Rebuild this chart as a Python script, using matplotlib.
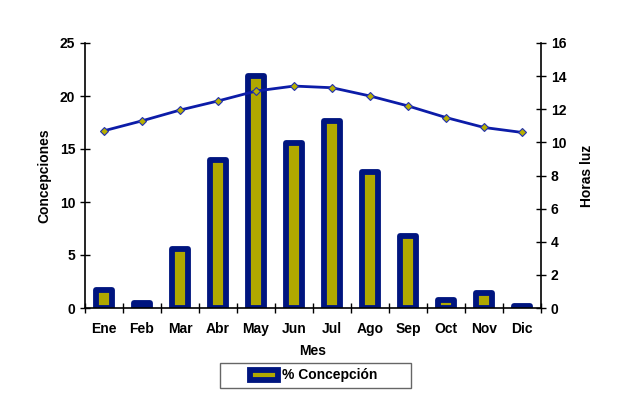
import numpy as np
import matplotlib.pyplot as plt
from matplotlib.patches import Rectangle

plt.rcParams['font.family'] = ['Liberation Sans', 'DejaVu Sans']
plt.rcParams['font.weight'] = 'bold'

meses = ['Ene', 'Feb', 'Mar', 'Abr', 'May', 'Jun', 'Jul', 'Ago', 'Sep', 'Oct', 'Nov', 'Dic']
concepciones = [1.7, 0.5, 5.6, 14.0, 21.85, 15.6, 17.6, 12.8, 6.8, 0.8, 1.45, 0.2]
horas_luz = [10.7, 11.3, 11.95, 12.5, 13.1, 13.4, 13.3, 12.8, 12.2, 11.5, 10.9, 10.6]

fig = plt.figure(figsize=(6.27, 3.96), dpi=100)
ax = fig.add_axes([85/627, 1-308/396, 456/627, 265/396])
ax2 = ax.twinx()

x = np.arange(len(meses))
ax.bar(x, concepciones, width=0.4, color='#b0a800', edgecolor='#00157f',
       linewidth=4.2, joinstyle='round', label='% Concepción', zorder=2)
ax2.plot(x, horas_luz, color='#0c1ca8', linewidth=2, marker='D', markersize=4,
         markerfacecolor='#b8b000', markeredgecolor='#2030b0', markeredgewidth=0.8)

ax.set_xlim(-0.5, 11.5)
ax.set_ylim(0, 25)
ax2.set_ylim(0, 16)
ax.set_yticks(range(0, 26, 5))
ax2.set_yticks(range(0, 17, 2))

ax.set_xticks(x)
ax.set_xticklabels(meses)
ax.set_xticks(np.arange(-0.5, 12, 1), minor=True)
ax.tick_params(axis='x', which='major', length=0, pad=10, labelsize=10)
ax.tick_params(axis='x', which='minor', direction='inout', length=7, width=1)
ax.tick_params(axis='y', direction='inout', length=7, width=1, labelsize=10)
ax2.tick_params(axis='y', direction='inout', length=7, width=1, labelsize=10)

for a in (ax, ax2):
    a.spines['top'].set_visible(False)
    a.spines['left'].set_linewidth(1.2)
    a.spines['right'].set_linewidth(1.2)
    a.spines['bottom'].set_linewidth(1.2)
ax.spines['right'].set_visible(False)
ax2.spines['left'].set_visible(False)
ax2.spines['bottom'].set_visible(False)

ax.set_xlabel('Mes', fontsize=10, fontweight='bold', labelpad=6)
ax.set_ylabel('Concepciones', fontsize=10, fontweight='bold', labelpad=6)
ax2.set_ylabel('Horas luz', fontsize=10, fontweight='bold', rotation=90, labelpad=10)

# legend box drawn wider than its content, like the original
fig.patches.append(Rectangle((220/627, 1-388/396), 191/627, 25/396,
                             transform=fig.transFigure, facecolor='white',
                             edgecolor='#666666', linewidth=1))
leg = fig.legend(loc='center', bbox_to_anchor=(314/627, 1-375.5/396), frameon=False,
                 fontsize=10, handlelength=2.0, handletextpad=0.3, borderpad=0.2)
for t in leg.get_texts():
    t.set_fontweight('bold')

fig.savefig('out.png', dpi=100)
